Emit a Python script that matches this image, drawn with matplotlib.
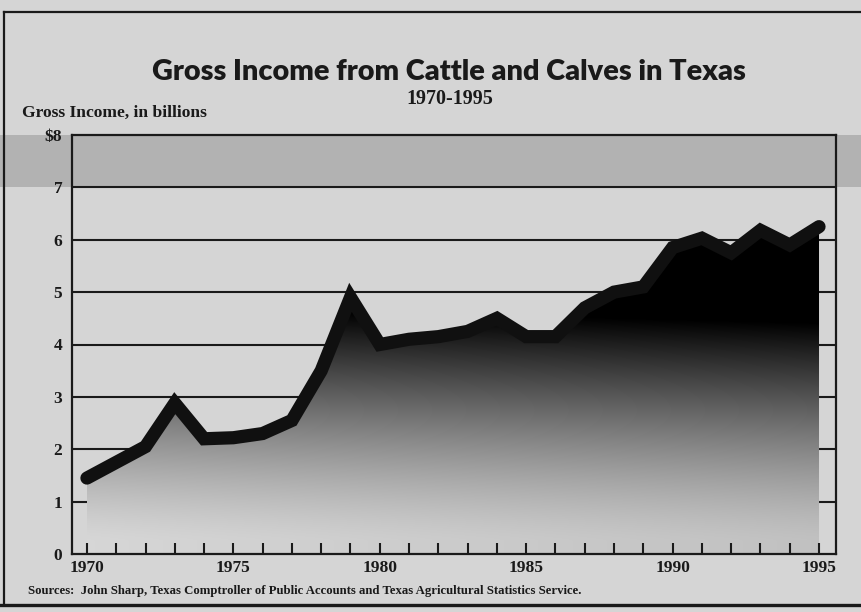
import numpy as np
import matplotlib
matplotlib.use("Agg")
import matplotlib.pyplot as plt
from matplotlib.lines import Line2D
from matplotlib.patches import Rectangle
import matplotlib.transforms as mtransforms

# ---------------- data ----------------
years = list(range(1970, 1996))
income = [1.45, 1.75, 2.05, 2.88, 2.20, 2.22, 2.30, 2.55, 3.50, 4.90,
          4.00, 4.10, 4.15, 4.25, 4.50, 4.15, 4.15, 4.70, 5.00, 5.10,
          5.85, 6.03, 5.75, 6.18, 5.90, 6.25]
major_years = [1970, 1975, 1980, 1985, 1990, 1995]
ytick_vals = [0, 1, 2, 3, 4, 5, 6, 7, 8]
ytick_labels = ["0", "1", "2", "3", "4", "5", "6", "7", "$8"]
title = "Gross Income from Cattle and Calves in Texas"
subtitle = "1970-1995"
ylabel = "Gross Income, in billions"
source = "Sources:  John Sharp, Texas Comptroller of Public Accounts and Texas Agricultural Statistics Service."

# ---------------- style ----------------
W, H = 861, 612
paper = "#d5d5d5"
band = "#b2b2b2"
ink = "#1a1a1a"
serif = ["Liberation Serif", "DejaVu Serif"]

fig = plt.figure(figsize=(W / 100, H / 100), dpi=100, facecolor=paper)

def fx(px):
    return px / W

def fy(py):
    return 1 - py / H

ax_l, ax_r, ax_t, ax_b = 72, 836, 135, 554
ax = fig.add_axes([fx(ax_l), fy(ax_b), fx(ax_r - ax_l), (ax_b - ax_t) / H])
ax.set_xlim(1969.49, 1995.58)
ax.set_ylim(0, 8)

# darker band 7-8 across the whole page width
trans = mtransforms.blended_transform_factory(fig.transFigure, ax.transData)
fig.patches.append(Rectangle((0, 7), 1, 1, transform=trans, facecolor=band,
                             edgecolor="none", zorder=-5))
ax.patch.set_alpha(0)

# gridlines (under the fill)
for v in ytick_vals[1:8]:
    ax.axhline(v, color=ink, lw=1.5, zorder=0.5)

# gradient fill clipped to area under the line
gx = np.linspace(1970, 1995, 300)
gy = np.linspace(0, 6.6, 300)
GX, GY = np.meshgrid(gx, gy)
d = np.clip((GY - 0.25) / 4.5, 0, 1) ** 1.35 + 0.004 * (GX - 1970)
d = np.clip(d, 0, 1)
base = 0.84
val = base * (1 - d)
img = np.dstack([val, val, val])
im = ax.imshow(img, extent=[1970, 1995, 0, 6.6], origin="lower",
               aspect="auto", interpolation="bilinear", zorder=1)
poly = ax.fill_between(years, income, 0, color="none", lw=0, zorder=1)
im.set_clip_path(poly.get_paths()[0], transform=ax.transData)
ax.set_xlim(1969.49, 1995.58)
ax.set_ylim(0, 8)

# thick line
ax.plot(years, income, color="#101010", lw=9.5, solid_joinstyle="miter",
        solid_capstyle="round", zorder=3)

# spines
for s in ["left", "right", "top", "bottom"]:
    ax.spines[s].set_linewidth(1.6)
    ax.spines[s].set_color(ink)
    ax.spines[s].set_zorder(4)

# ticks
ax.set_xticks(major_years)
ax.set_xticks(years, minor=True)
ax.set_xticklabels([str(y) for y in major_years])
ax.tick_params(axis="x", which="both", direction="in", length=8, width=1.5,
               color=ink, top=False, pad=4)
ax.set_yticks(ytick_vals)
ax.set_yticklabels(ytick_labels)
ax.tick_params(axis="y", which="both", length=0, pad=7)
for lab in ax.get_xticklabels():
    lab.set_fontfamily(serif)
    lab.set_fontweight("bold")
    lab.set_fontsize(12.5)
    lab.set_color(ink)
for lab in ax.get_yticklabels():
    lab.set_fontfamily(serif)
    lab.set_fontweight("bold")
    lab.set_fontsize(12.5)
    lab.set_color(ink)

# ---------------- texts ----------------
renderer = fig.canvas.get_renderer()

def fit(t, target_w):
    bb = t.get_window_extent(renderer=renderer)
    t.set_fontsize(t.get_fontsize() * target_w / bb.width)

t1 = fig.text(fx(448.5), fy(80), title, ha="center", va="baseline",
              fontsize=22, fontweight="heavy", family=["Lato", "DejaVu Sans"],
              color=ink)
fit(t1, 593)
t2 = fig.text(fx(450), fy(104), subtitle, ha="center", va="baseline",
              fontsize=11, fontweight="bold", family=serif, color=ink)
fit(t2, 86)
t3 = fig.text(fx(22), fy(117), ylabel, ha="left", va="baseline",
              fontsize=10, fontweight="bold", family=serif, color=ink)
fit(t3, 185)
t4 = fig.text(fx(28), fy(594), source, ha="left", va="baseline",
              fontsize=8, fontweight="bold", family=serif, color=ink)
fit(t4, 555)

# outer frame
fig.lines.append(Line2D([fx(4), 1], [fy(12), fy(12)], transform=fig.transFigure,
                        color=ink, lw=1.6))
fig.lines.append(Line2D([fx(4), fx(4)], [fy(12), fy(605)], transform=fig.transFigure,
                        color=ink, lw=1.6))
fig.lines.append(Line2D([0, 1], [fy(605), fy(605)], transform=fig.transFigure,
                        color=ink, lw=2.4))

fig.savefig("out.png", dpi=100, facecolor=paper)
